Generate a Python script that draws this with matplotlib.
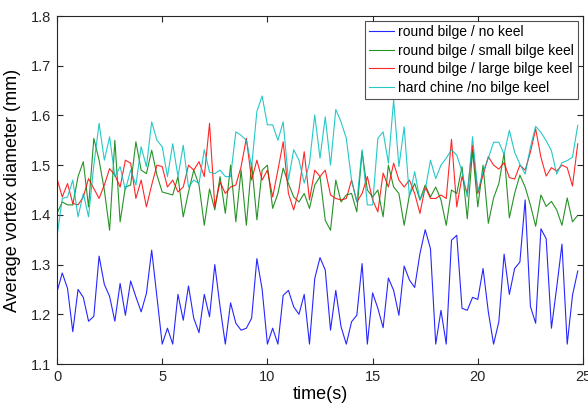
import numpy as np
import matplotlib
matplotlib.use("Agg")
import matplotlib.pyplot as plt

plt.rcParams['font.family'] = ['Liberation Sans', 'DejaVu Sans']

dt = 0.25
n_points = 100

no_keel = [1.245, 1.283, 1.252, 1.165, 1.25, 1.234, 1.186, 1.196, 1.317, 1.26,
           1.236, 1.186, 1.262, 1.198, 1.267, 1.235, 1.205, 1.242, 1.329, 1.235,
           1.14, 1.172, 1.14, 1.24, 1.188, 1.257, 1.192, 1.163, 1.24, 1.195,
           1.3, 1.215, 1.14, 1.223, 1.182, 1.168, 1.172, 1.192, 1.312, 1.25,
           1.14, 1.172, 1.14, 1.238, 1.248, 1.215, 1.2, 1.24, 1.14, 1.272,
           1.314, 1.289, 1.168, 1.248, 1.175, 1.14, 1.185, 1.198, 1.302, 1.14,
           1.243, 1.212, 1.173, 1.273, 1.248, 1.198, 1.297, 1.269, 1.254, 1.322,
           1.37, 1.332, 1.14, 1.208, 1.14, 1.349, 1.359, 1.212, 1.208, 1.234,
           1.23, 1.292, 1.205, 1.14, 1.185, 1.321, 1.24, 1.292, 1.305, 1.43,
           1.216, 1.182, 1.372, 1.352, 1.172, 1.254, 1.341, 1.14, 1.238, 1.287]

small_keel = [1.403, 1.426, 1.42, 1.42, 1.477, 1.507, 1.416, 1.554, 1.51, 1.45,
              1.369, 1.55, 1.386, 1.456, 1.46, 1.547, 1.49, 1.483, 1.53, 1.48,
              1.446, 1.443, 1.44, 1.477, 1.396, 1.446, 1.49, 1.46, 1.379, 1.452,
              1.41, 1.477, 1.403, 1.5, 1.386, 1.49, 1.379, 1.504, 1.39, 1.49,
              1.5, 1.413, 1.443, 1.494, 1.463, 1.436, 1.426, 1.443, 1.413, 1.46,
              1.477, 1.389, 1.369, 1.47, 1.426, 1.44, 1.443, 1.406, 1.527, 1.45,
              1.436, 1.45, 1.396, 1.5, 1.456, 1.443, 1.379, 1.44, 1.463, 1.43,
              1.46, 1.436, 1.456, 1.43, 1.379, 1.45, 1.443, 1.497, 1.392, 1.53,
              1.416, 1.5, 1.383, 1.434, 1.463, 1.524, 1.394, 1.443, 1.48, 1.456,
              1.42, 1.377, 1.44, 1.417, 1.427, 1.41, 1.379, 1.434, 1.386, 1.399]

large_keel = [1.473, 1.436, 1.463, 1.423, 1.42, 1.436, 1.473, 1.453, 1.433, 1.46,
              1.493, 1.48, 1.456, 1.51, 1.504, 1.433, 1.47, 1.416, 1.46, 1.5,
              1.497, 1.456, 1.47, 1.446, 1.456, 1.5, 1.49, 1.507, 1.477, 1.584,
              1.416, 1.466, 1.443, 1.456, 1.46, 1.497, 1.554, 1.47, 1.51, 1.47,
              1.49, 1.436, 1.49, 1.547, 1.443, 1.41, 1.45, 1.527, 1.43, 1.49,
              1.477, 1.49, 1.44, 1.433, 1.43, 1.433, 1.47, 1.426, 1.443, 1.477,
              1.43, 1.406, 1.484, 1.456, 1.504, 1.47, 1.456, 1.47, 1.443, 1.403,
              1.456, 1.433, 1.433, 1.44, 1.433, 1.552, 1.416, 1.477, 1.443, 1.54,
              1.443, 1.48, 1.517, 1.5, 1.492, 1.505, 1.475, 1.472, 1.5, 1.49,
              1.526, 1.573, 1.516, 1.478, 1.495, 1.488, 1.5, 1.495, 1.458, 1.543]

hard_chine = [1.356, 1.433, 1.436, 1.47, 1.396, 1.443, 1.396, 1.5, 1.584, 1.51,
              1.557, 1.477, 1.497, 1.45, 1.49, 1.46, 1.537, 1.497, 1.587, 1.55,
              1.537, 1.477, 1.543, 1.477, 1.54, 1.456, 1.47, 1.463, 1.531, 1.486,
              1.483, 1.49, 1.477, 1.477, 1.567, 1.56, 1.55, 1.497, 1.608, 1.639,
              1.581, 1.581, 1.55, 1.587, 1.47, 1.531, 1.51, 1.464, 1.504, 1.601,
              1.514, 1.597, 1.5, 1.612, 1.587, 1.554, 1.47, 1.426, 1.531, 1.42,
              1.42, 1.554, 1.567, 1.504, 1.631, 1.497, 1.577, 1.436, 1.487, 1.43,
              1.45, 1.51, 1.473, 1.5, 1.514, 1.531, 1.52, 1.487, 1.436, 1.557,
              1.447, 1.487, 1.514, 1.546, 1.546, 1.522, 1.57, 1.526, 1.502, 1.482,
              1.536, 1.578, 1.566, 1.549, 1.529, 1.482, 1.505, 1.509, 1.516, 1.58]

labels = ['round bilge / no keel', 'round bilge / small bilge keel',
          'round bilge / large bilge keel', 'hard chine /no bilge keel']
colors = ['#0000ff', '#008000', '#ff0000', '#00bfbf']
xticks = [0, 5, 10, 15, 20, 25]
yticks = [1.1, 1.2, 1.3, 1.4, 1.5, 1.6, 1.7, 1.8]

t = np.arange(n_points) * dt

fig = plt.figure(figsize=(5.88, 4.03), dpi=100)
ax = fig.add_axes([57/588, 1-364/403, (583-57)/588, (364-16)/403])

for series, lab, col in zip([no_keel, small_keel, large_keel, hard_chine], labels, colors):
    ax.plot(t, series, color=col, lw=0.8, label=lab, alpha=0.85)

ax.set_xlim(0, 25)
ax.set_ylim(1.1, 1.8)
ax.set_xticks(xticks)
ax.set_xticklabels([str(v) for v in xticks])
ax.set_yticks(yticks)
ax.set_yticklabels([f"{v:.1f}" for v in yticks])
ax.tick_params(direction='in', length=4, width=0.8, top=True, right=True,
               labelsize=10.5, colors='#262626', pad=4)
for s in ax.spines.values():
    s.set_color('#262626')
    s.set_linewidth(0.8)

ax.set_xlabel('time(s)', fontsize=13, labelpad=2)
ax.set_ylabel('Average vortex diameter (mm)', fontsize=13, labelpad=7)

leg = ax.legend(loc='upper right', fontsize=10, frameon=True, fancybox=False,
                edgecolor='#262626', borderaxespad=0.35, handlelength=1.8,
                handletextpad=0.3, labelspacing=0.33, borderpad=0.3)
leg.get_frame().set_linewidth(0.8)
for line in leg.get_lines():
    line.set_alpha(0.85)

fig.savefig('out.png', dpi=100)
